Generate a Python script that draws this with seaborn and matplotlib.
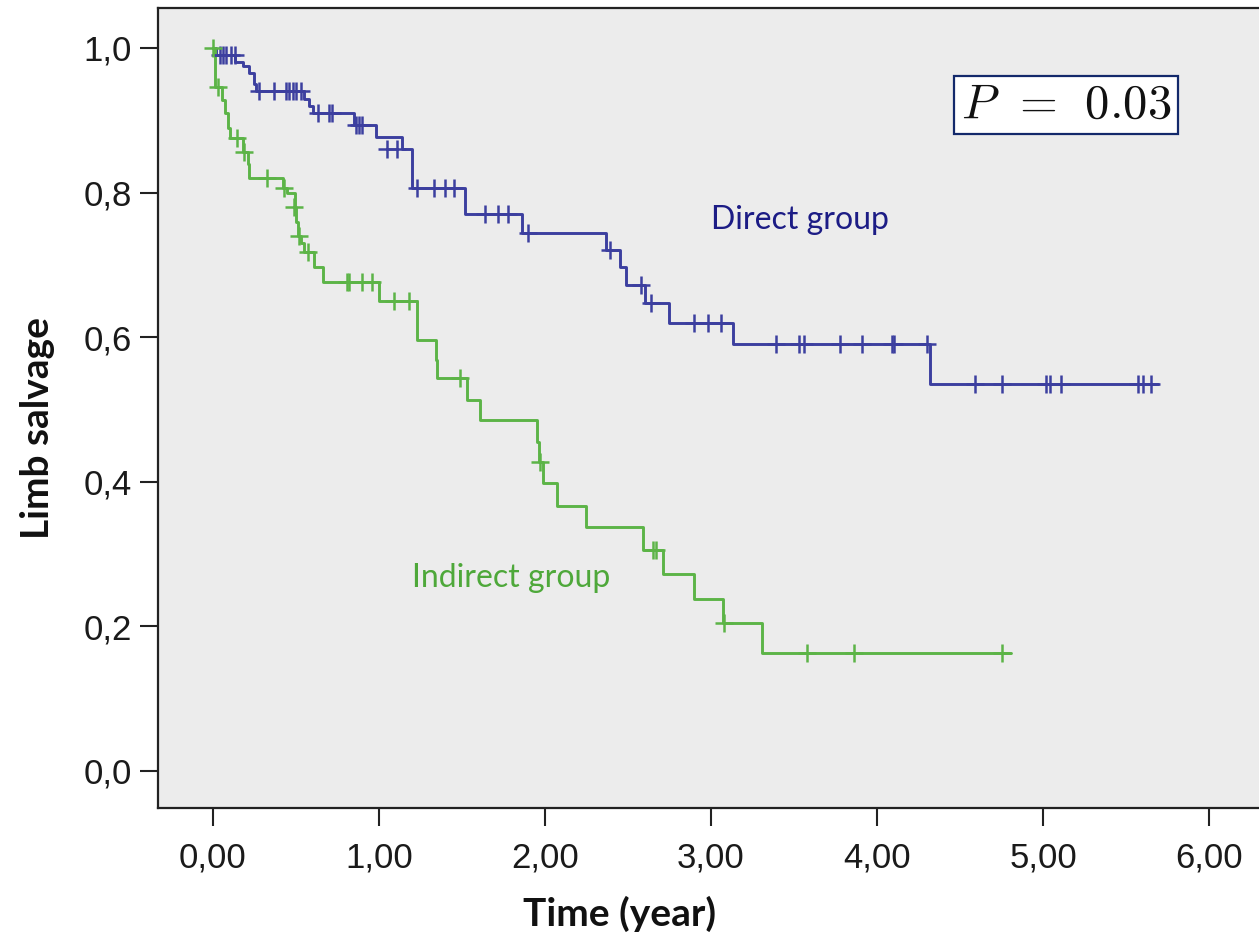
import numpy as np
import pandas as pd
import matplotlib
matplotlib.use("Agg")
import matplotlib.pyplot as plt
import seaborn as sns

# ---------------- data ----------------
# Direct group: step times and survival after each step
direct_times = [0.00, 0.02, 0.13, 0.18, 0.22, 0.25, 0.26, 0.55, 0.58, 0.60,
                0.85, 0.98, 1.00, 1.14, 1.20, 1.52, 1.86, 2.37, 2.45, 2.49,
                2.60, 2.75, 3.13, 4.32]
direct_surv = [1.000, 0.990, 0.980, 0.975, 0.965, 0.950, 0.940, 0.930, 0.920, 0.910,
               0.894, 0.877, 0.877, 0.860, 0.807, 0.770, 0.744, 0.720, 0.697, 0.672,
               0.647, 0.620, 0.590, 0.535]
direct_end = 5.69
direct_cens_t = [0.04, 0.06, 0.08, 0.11, 0.13,
                 0.28, 0.37, 0.44, 0.46, 0.48, 0.50, 0.53,
                 0.63, 0.70, 0.72,
                 0.86, 0.88, 0.90,
                 1.05, 1.11,
                 1.23, 1.33, 1.40, 1.45,
                 1.64, 1.72, 1.78,
                 1.90, 2.39, 2.58, 2.64,
                 2.90, 2.98, 3.06,
                 3.39, 3.53, 3.56, 3.78, 3.91, 4.09, 4.10, 4.30,
                 4.59, 4.75, 5.02, 5.04, 5.11, 5.57, 5.60, 5.65]
direct_cens_s = [0.990, 0.990, 0.990, 0.990, 0.990,
                 0.940, 0.940, 0.940, 0.940, 0.940, 0.940, 0.940,
                 0.910, 0.910, 0.910,
                 0.894, 0.894, 0.894,
                 0.860, 0.860,
                 0.807, 0.807, 0.807, 0.807,
                 0.770, 0.770, 0.770,
                 0.744, 0.720, 0.672, 0.647,
                 0.620, 0.620, 0.620,
                 0.590, 0.590, 0.590, 0.590, 0.590, 0.590, 0.590, 0.590,
                 0.535, 0.535, 0.535, 0.535, 0.535, 0.535, 0.535, 0.535]

# Indirect group
indirect_times = [0.00, 0.015, 0.055, 0.072, 0.09, 0.10, 0.18, 0.21, 0.22, 0.42,
                  0.445, 0.494, 0.50, 0.51, 0.53, 0.55, 0.61, 0.66, 1.00, 1.23,
                  1.345, 1.35, 1.53, 1.61, 1.95, 1.965, 1.99, 2.07, 2.25, 2.59,
                  2.71, 2.90, 3.07, 3.31]
indirect_surv = [1.000, 0.946, 0.928, 0.910, 0.890, 0.876, 0.856, 0.840, 0.820, 0.807,
                 0.800, 0.780, 0.760, 0.740, 0.730, 0.718, 0.697, 0.676, 0.650, 0.596,
                 0.568, 0.543, 0.513, 0.485, 0.455, 0.427, 0.398, 0.367, 0.337, 0.306,
                 0.272, 0.238, 0.205, 0.163]
indirect_end = 4.81
indirect_cens_t = [0.00, 0.03, 0.145, 0.19, 0.325, 0.43, 0.49, 0.52, 0.57,
                   0.81, 0.82, 0.90, 0.96, 1.09, 1.18, 1.49, 1.97,
                   2.65, 2.67, 3.08, 3.58, 3.86, 4.75]
indirect_cens_s = [1.000, 0.946, 0.876, 0.856, 0.820, 0.807, 0.780, 0.740, 0.718,
                   0.676, 0.676, 0.676, 0.676, 0.650, 0.650, 0.543, 0.427,
                   0.306, 0.306, 0.205, 0.163, 0.163, 0.163]

groups = ["Direct group", "Indirect group"]
x_ticks = [0, 1, 2, 3, 4, 5, 6]
y_ticks = [0.0, 0.2, 0.4, 0.6, 0.8, 1.0]
p_text = r"$P\;\,=\;\,0.03$"

# ---------------- build frames ----------------
def km_frame(times, surv, end, group):
    return pd.DataFrame({"time": list(times) + [end],
                         "surv": list(surv) + [surv[-1]],
                         "group": group})

lines = pd.concat([km_frame(direct_times, direct_surv, direct_end, groups[0]),
                   km_frame(indirect_times, indirect_surv, indirect_end, groups[1])],
                  ignore_index=True)
cens = pd.concat([pd.DataFrame({"time": direct_cens_t, "surv": direct_cens_s, "group": groups[0]}),
                  pd.DataFrame({"time": indirect_cens_t, "surv": indirect_cens_s, "group": groups[1]})],
                 ignore_index=True)

palette = {groups[0]: "#3c3f9f", groups[1]: "#5cb447"}

# ---------------- plot ----------------
sns.set_theme(style="ticks")
plt.rcParams["font.family"] = ["Liberation Sans", "DejaVu Sans"]
plt.rcParams["mathtext.fontset"] = "cm"

fig = plt.figure(figsize=(12.59, 9.43), dpi=100)
ax = fig.add_axes([158 / 1259, 1 - 808 / 943, (1259 - 158) / 1259, (808 - 8) / 943])
ax.set_facecolor("#ececec")

for g in groups:
    sub = lines[lines["group"] == g]
    sns.lineplot(data=sub, x="time", y="surv", color=palette[g], drawstyle="steps-post",
                 estimator=None, sort=False, linewidth=2.1, legend=False, ax=ax)
    csub = cens[cens["group"] == g]
    sns.scatterplot(data=csub, x="time", y="surv", color=palette[g], marker="+",
                    s=150, linewidth=1.8, legend=False, ax=ax, zorder=3)

ax.set_xlim(-0.331, 6.301)
ax.set_ylim(-0.0512, 1.0553)

ax.set_xticks(x_ticks)
ax.set_xticklabels([f"{v:.2f}".replace(".", ",") for v in x_ticks])
ax.set_yticks(y_ticks)
ax.set_yticklabels([f"{v:.1f}".replace(".", ",") for v in y_ticks])
ax.tick_params(axis="both", direction="out", length=13, width=1.5, colors="#222222",
               labelsize=25, labelcolor="#1a1a1a")
ax.tick_params(axis="y", pad=6)
ax.tick_params(axis="x", pad=11)

for side in ["left", "bottom", "top"]:
    ax.spines[side].set_linewidth(1.6)
    ax.spines[side].set_color("#222222")
ax.spines["right"].set_visible(False)

ax.set_xlabel("Time (year)", fontsize=28, family=["Lato", "DejaVu Sans"], fontweight="bold",
              color="#111111")
ax.set_ylabel("Limb salvage", fontsize=28, family=["Lato", "DejaVu Sans"], fontweight="bold",
              color="#111111")
ax.xaxis.set_label_coords(0.419, -0.11)
ax.yaxis.set_label_coords(-0.094, 0.475)

ax.text(3.0, 0.762, "Direct group", fontsize=23, family=["Lato", "DejaVu Sans"],
        color="#1c1c85", ha="left", va="center")
ax.text(1.2, 0.267, "Indirect group", fontsize=23, family=["Lato", "DejaVu Sans"],
        color="#4ea83a", ha="left", va="center")

ax.text(5.14, 0.921, p_text, fontsize=35, color="#111111", ha="center", va="center",
        bbox=dict(boxstyle="square,pad=0.14", facecolor="white", edgecolor="#13296b",
                  linewidth=1.6))

fig.savefig("out.png", dpi=100)
